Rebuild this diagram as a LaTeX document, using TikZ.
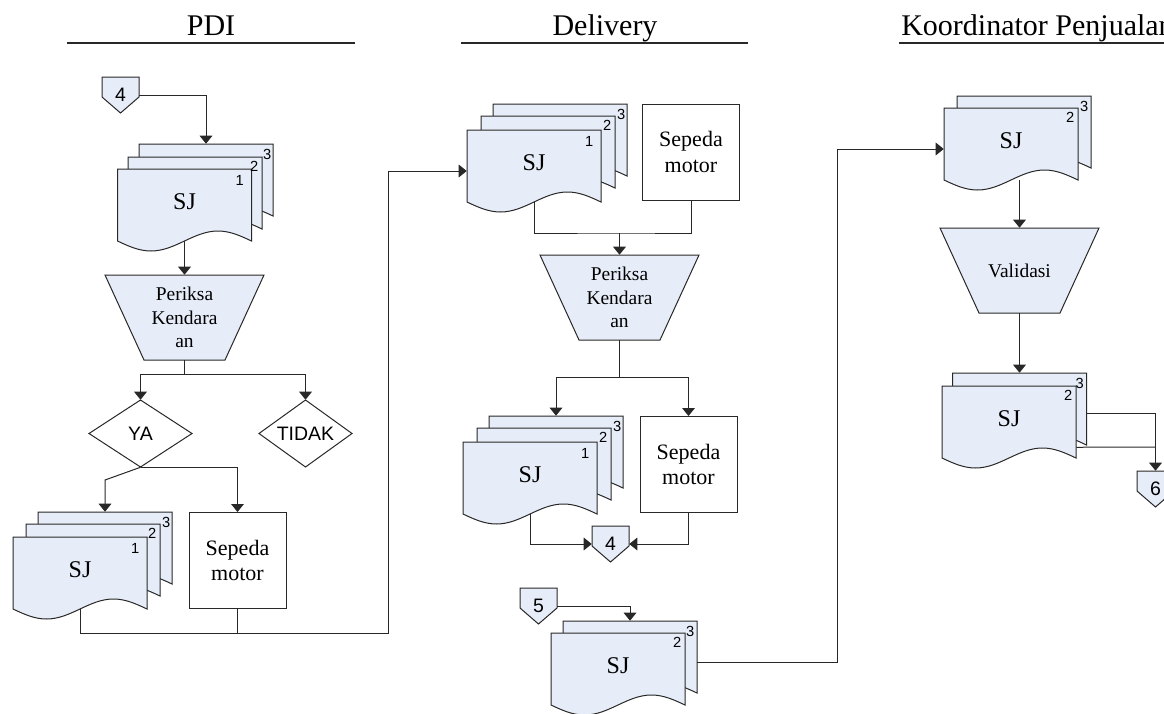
\documentclass[tikz,border=0pt]{standalone}
\usepackage{fontspec}
\setmainfont{Liberation Serif}
\newfontfamily\arialf{Liberation Sans}
\usetikzlibrary{arrows.meta,calc}
\definecolor{docblue}{RGB}{231,237,248}
\definecolor{ink}{RGB}{40,40,40}
\tikzset{
  shapest/.style={draw=ink, line width=0.75pt, fill=docblue, line join=miter},
  boxst/.style={draw=ink, line width=0.75pt, fill=white},
  pagebox/.style={inner sep=0pt, minimum width=100.5pt, minimum height=54pt, font=\fontsize{18}{20}\selectfont},
  pnum/.style={inner sep=0pt, font=\arialf\fontsize{11}{12}\selectfont, text=black},
  conn/.style={draw=ink, line width=0.75pt},
  arr/.style={conn, -{Triangle[length=6pt,width=9.5pt]}},
  title/.style={anchor=base, inner sep=0pt, font=\fontsize{22.5}{26}\selectfont},
  titleline/.style={draw=ink, line width=1.2pt},
  trapbox/.style={inner sep=0pt, minimum width=60.75pt, minimum height=63.75pt, align=center, font=\fontsize{14.6}{17.6}\selectfont},
  smbox/.style={boxst, inner sep=0pt, minimum width=72.75pt, minimum height=72pt, align=center, font=\fontsize{16.5}{19}\selectfont},
  connbox/.style={inner sep=0pt, minimum width=27.75pt, minimum height=27pt, font=\arialf\fontsize{14.6}{16}\selectfont},
  diabox/.style={inner sep=0pt, font=\arialf\fontsize{14.6}{16}\selectfont},
}
\newcommand\sjtxt{\raisebox{2.25pt}[\height][\depth]{SJ}}
\newcommand\sjpage[4]{%
  \filldraw[shapest] (#2,#3) -- ({#2+134},#3) -- ({#2+134},{#3+72})
    sin ({#2+100.5},{#3+62}) cos ({#2+67},{#3+72}) sin ({#2+33.5},{#3+82}) cos (#2,{#3+72}) -- cycle;
  \node[pagebox] (#1) at ({#2+67},{#3+36}) {#4};}
\newcommand\pn[4]{\node[pnum] (#1-n) at ($(#1.north east)+(#3,#4)$) {#2};}
\newcommand\trapz[4]{%
  \filldraw[shapest] ({#2-79.5},#3) -- ({#2+79.5},#3) -- ({#2+40.5},{#3+85}) -- ({#2-40.5},{#3+85}) -- cycle;
  \node[trapbox] (#1) at (#2,{#3+42.5}) {#4};}
\newcommand\offpg[4]{%
  \filldraw[shapest] ({#2-18.5},#3) -- ({#2+18.5},#3) -- ({#2+18.5},{#3+20}) -- (#2,{#3+36}) -- ({#2-18.5},{#3+20}) -- cycle;
  \node[connbox] (#1) at (#2,{#3+18}) {#4};}
\begin{document}
\begin{tikzpicture}[x=0.75pt,y=-0.75pt]
\useasboundingbox (0,0) rectangle (1164,714);
\fill[white] (0,0) rectangle (1164,714);
% titles
\node[title] (tPDI) at (211,35) {PDI};
\draw[titleline] (67,43) -- (355,43);
\node[title] (tDel) at (605,35) {Delivery};
\draw[titleline] (461,43) -- (748,43);
\node[title, anchor=base west] (tKoor) at (901,35) {Koordinator Penjualan};
\draw[titleline] (899,43) -- (1190,43);
% ---------- PDI ----------
\offpg{cA}{120.5}{77}{4}
\sjpage{pAc}{139}{144}{}
\sjpage{pAb}{128}{157}{}
\sjpage{pAa}{117.5}{169}{\sjtxt}
\pn{pAc}{3}{-6}{11}\pn{pAb}{2}{-8}{10}\pn{pAa}{1}{-12}{12}
\trapz{tA}{184.5}{275}{Periksa\\Kendara\\an}
\draw[boxst] (89,433.5) -- (140.5,400) -- (192,433.5) -- (140.5,467) -- cycle;
\node[diabox, minimum width=77.25pt, minimum height=50.25pt] (ya) at (140.5,433.5) {YA};
\draw[boxst] (259,433.5) -- (305.5,400) -- (352,433.5) -- (305.5,467) -- cycle;
\node[diabox, minimum width=69.75pt, minimum height=50.25pt] (tidak) at (305.5,433.5) {TIDAK};
\sjpage{pBc}{38}{512}{}
\sjpage{pBb}{26}{524}{}
\sjpage{pBa}{13}{537}{\sjtxt}
\pn{pBc}{3}{-6}{11}\pn{pBb}{2}{-8}{10}\pn{pBa}{1}{-12}{12}
\node[smbox] (smA) at (237.5,560.5) {Sepeda\\motor};
% ---------- Delivery ----------
\sjpage{pCc}{493}{104}{}
\sjpage{pCb}{481}{116}{}
\sjpage{pCa}{467}{130}{\sjtxt}
\pn{pCc}{3}{-6}{11}\pn{pCb}{2}{-8}{10}\pn{pCa}{1}{-12}{12}
\node[smbox] (smB) at (691,152) {Sepeda\\motor};
\trapz{tB}{619.5}{255}{Periksa\\Kendara\\an}
\sjpage{pDc}{489}{416}{}
\sjpage{pDb}{477}{428}{}
\sjpage{pDa}{463}{442}{\sjtxt}
\pn{pDc}{3}{-6}{11}\pn{pDb}{2}{-8}{10}\pn{pDa}{1}{-12}{12}
\node[smbox] (smC) at (688.5,464.5) {Sepeda\\motor};
\offpg{cB}{610.5}{526}{4}
\offpg{cC}{538.5}{588}{5}
\sjpage{pEb}{563}{621}{}
\sjpage{pEa}{551}{633}{\sjtxt}
\pn{pEb}{3}{-7}{11}\pn{pEa}{2}{-8}{10}
% ---------- Koordinator ----------
\sjpage{pFb}{957}{96}{}
\sjpage{pFa}{944}{108}{\sjtxt}
\pn{pFb}{3}{-7}{11}\pn{pFa}{2}{-8}{10}
\trapz{tC}{1019.5}{228}{Validasi}
\sjpage{pGb}{952.5}{373}{}
\sjpage{pGa}{942}{386}{\sjtxt}
\pn{pGb}{3}{-7}{11}\pn{pGa}{2}{-8}{10}
\offpg{cD}{1155.5}{471}{6}
% ---------- connectors ----------
\draw[arr] (cA.east) -| (pAc.north);
\draw[arr] (pAa.south) -- (tA.north);
\coordinate (jA) at (184.5,374);
\draw[conn] (tA.south) -- (jA);
\draw[arr] (jA) -| (ya.north);
\draw[arr] (jA) -| (tidak.north);
\coordinate (yaBend) at (105,480);
\draw[arr] (ya.south) -- (yaBend) -- (pBc.north);
\draw[arr] (ya.south) -| (smA.north);
\coordinate (busA) at (388,633);
\draw[arr] (pBa.south) |- (busA) |- ([yshift=-3.75pt]pCa.west);
\draw[conn] (smA.south) -- (smA.south |- busA);
\coordinate (jB) at (619.5,233);
\draw[conn] (pCa.south) |- (jB) -| (smB.south);
\draw[arr] (jB) -- (tB.north);
\coordinate (jC) at (619.5,377);
\draw[conn] (tB.south) -- (jC);
\draw[arr] (jC) -| (pDc.north);
\draw[arr] (jC) -| (smC.north);
\draw[arr] (pDa.south) |- (cB.west);
\draw[arr] (smC.south) |- (cB.east);
\draw[arr] (cC.east) -| (pEb.north);
\coordinate (busB) at (837,662);
\draw[arr] ([yshift=-3.75pt]pEb.east) -- (busB) |- ([yshift=-3.75pt]pFa.west);
\draw[arr] (tC.north |- pFa.south) -- (tC.north);
\draw[arr] (tC.south) -- (pGb.north);
\coordinate (jD) at (1155.5,413);
\draw[conn] ([yshift=-3pt]pGb.east) -- (jD);
\draw[arr] (jD) -- (cD.north);
\coordinate (jE) at (1155.5,447);
\draw[conn] ([yshift=8.25pt]pGa.south east) -- (jE);
\end{tikzpicture}
\end{document}
